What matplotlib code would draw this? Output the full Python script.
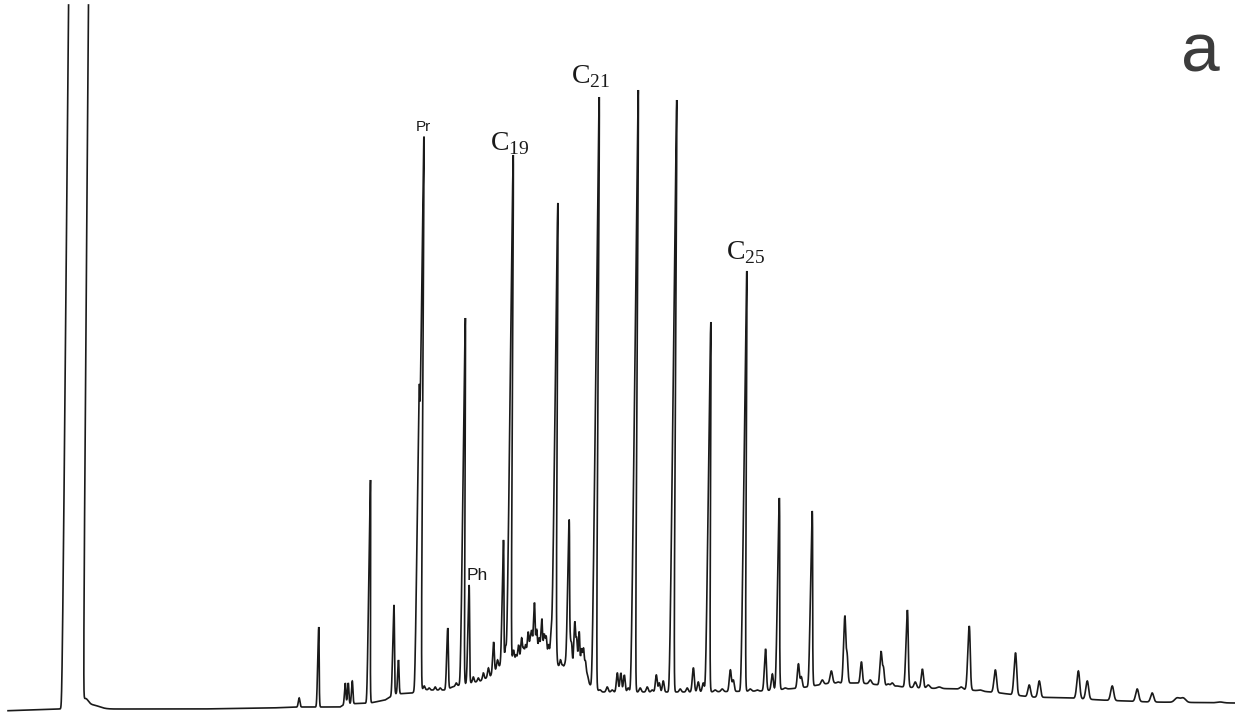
import numpy as np
import matplotlib
matplotlib.use("Agg")
import matplotlib.pyplot as plt
from matplotlib.transforms import Affine2D

# ---------------- data (retention position, detector response) ----------------
# baseline / unresolved hump
base_rt = [0, 55, 110, 200, 270, 300, 340, 345, 370, 385, 395, 412, 420, 430, 445,
           455, 470, 480, 490, 500, 510, 520, 530, 540, 550, 560, 570, 580, 590,
           600, 700, 760, 800, 830, 860, 890, 920, 960, 1000, 1030, 1070, 1100,
           1150, 1235]
base_resp = [4, 6, 6, 6, 7, 8, 8, 11, 12, 15, 21, 22, 26, 25, 25,
             29, 32, 34, 39, 50, 53, 55, 59, 58, 55, 48, 47, 40, 30,
             23, 23, 24, 27, 32, 32, 29, 27, 26, 22, 18, 17, 15,
             13, 12]

# solvent peak (off scale) and its tail
solvent_rt = 72.5
solvent_height = 3.3e9
solvent_sigma = 1.8
tail_rt = [85, 92]
tail_height = [8, 4]
tail_sigma = [3.0, 7.0]

# resolved peaks: retention position, apex response, width
peak_rt = [299, 318, 345, 348, 352, 368.5, 393, 398, 416.5, 419, 424, 429, 435, 440,
           447, 452, 456, 462, 468, 473, 478, 483, 488, 493, 497, 502, 505, 508.5,
           513, 515.5, 518, 521, 523, 525, 527.5, 529.5, 531, 533.5, 536, 538.5, 541,
           543.5, 545.5, 548, 550.5,
           553.5, 556, 558, 560, 562, 565, 567.5, 569.5, 571, 574, 576, 578.5, 581,
           583, 585, 587,
           594, 600, 607, 612, 617, 620.5, 624, 628,
           633, 640, 647, 652, 656, 659, 663,
           671.5, 680, 687, 693, 698, 703, 707.5, 715, 722, 730, 733,
           743, 750, 757, 765, 772, 777.5, 785, 790, 798, 801,
           810.5, 816, 822, 831, 838, 844, 846.5, 851, 855, 861, 866, 870,
           880.5, 883, 888, 892, 897, 906.5, 915, 922, 928, 939, 950, 961,
           968.5, 980, 995, 1015, 1029, 1039, 1078, 1087, 1112, 1137, 1152,
           1177, 1183, 1220]
peak_apex = [17, 88, 32, 32, 34, 235, 110, 55, 317, 572, 29, 27, 28, 27,
             87, 28, 32, 397, 130, 38, 37, 42, 47, 73, 55, 175, 68, 560,
             65, 60, 70, 77, 66, 70, 83, 72, 83, 112, 85, 77, 96,
             80, 78, 70, 82,
             512, 60, 48, 55, 50, 52, 195, 66, 70, 92, 75, 83, 65,
             65, 52, 40,
             618, 25, 28, 25, 42, 42, 40, 27,
             625, 27, 28, 25, 40, 32, 34,
             615, 26, 27, 47, 33, 32, 393, 25, 26, 45, 35,
             444, 26, 25, 66, 41, 217, 27, 25, 51, 38,
             204, 29, 35, 44, 33, 98, 60, 31, 30, 53, 31, 35,
             63, 47, 31, 32, 29, 105, 33, 46, 30, 28, 26, 28,
             89, 25, 45, 62, 30, 34, 44, 34, 29, 26, 22,
             17, 17, 13]
peak_sigma = [0.8, 0.7, 0.7, 0.7, 0.7, 0.8, 0.8, 0.7, 0.9, 0.9, 0.8, 0.8, 0.8, 0.8,
              0.8, 0.8, 0.8, 0.9, 0.8, 0.8, 0.8, 0.8, 0.8, 0.8, 0.8, 0.8, 0.7, 1.0,
              0.8, 0.7, 0.8, 0.8, 0.7, 0.8, 0.8, 0.7, 0.8, 0.8, 0.8, 0.8, 0.8,
              0.8, 0.8, 0.8, 0.8,
              1.0, 0.7, 0.9, 0.7, 0.9, 0.9, 0.9, 0.7, 0.8, 0.8, 0.8, 0.8, 0.8,
              0.8, 0.8, 1.0,
              1.0, 1.0, 1.0, 1.0, 0.9, 0.9, 0.9, 1.0,
              1.0, 1.0, 1.0, 1.0, 0.9, 0.9, 0.9,
              1.0, 1.0, 1.0, 1.0, 1.0, 1.0, 1.0, 1.2, 1.2, 1.0, 1.0,
              1.0, 1.2, 1.2, 1.0, 1.0, 1.0, 1.3, 1.3, 1.0, 1.0,
              1.0, 1.2, 1.2, 1.2, 1.2, 1.0, 1.0, 1.3, 1.3, 1.0, 1.3, 1.3,
              1.0, 1.0, 1.3, 1.3, 1.3, 1.1, 1.2, 1.1, 1.5, 2.0, 2.0, 1.5,
              1.2, 2.0, 1.3, 1.3, 1.3, 1.3, 1.4, 1.4, 1.5, 1.5, 1.5,
              2.5, 2.5, 3.0]

# peak labels: text, retention position, response at label baseline
label_text = ["Pr", "Ph"]
label_rt = [416, 467]
label_resp = [584, 135]
carbon_text = ["19", "21", "25"]
carbon_rt = [490, 571, 726]
carbon_resp = [565, 632, 456]
panel_label = "a"

# ---------------- build signal ----------------
x = np.arange(8.0, 1235.0, 0.05)
base = np.interp(x, base_rt, base_resp)
signal = base.copy()
signal += solvent_height * np.exp(-0.5 * ((x - solvent_rt) / solvent_sigma) ** 2)
for c, h, s in zip(tail_rt, tail_height, tail_sigma):
    signal += h * np.exp(-0.5 * ((x - c) / s) ** 2)
for c, a, s in zip(peak_rt, peak_apex, peak_sigma):
    h = max(a - np.interp(c, base_rt, base_resp), 0.0)
    signal += h * np.exp(-0.5 * ((x - c) / s) ** 2)

# the off-scale solvent peak: sides run to the top edge, no top drawn
top = 710
over = signal > top
interior = over & np.roll(over, 1) & np.roll(over, -1)
signal = np.minimum(signal, top)
signal[interior] = np.nan

# ---------------- draw ----------------
fig = plt.figure(figsize=(12.35, 7.15), dpi=100)
ax = fig.add_axes([0, 0, 1, 1])
ax.set_xlim(0, 1235)
ax.set_ylim(0, 715)
ax.axis("off")

skew = Affine2D().skew(np.arctan(0.0085), 0)
ax.plot(x, signal, color="#1a1a1a", lw=1.2, solid_joinstyle="miter",
        transform=skew + ax.transData)

plt.rcParams["mathtext.fontset"] = "custom"
plt.rcParams["mathtext.rm"] = "Liberation Serif"
for t, xr, yr in zip(label_text, label_rt, label_resp):
    ax.text(xr, yr, t, fontsize=11 if t == "Pr" else 12.5, family="Liberation Sans",
            ha="left", va="baseline", color="#1a1a1a")
for t, xr, yr in zip(carbon_text, carbon_rt, carbon_resp):
    ax.text(xr, yr, r"$\mathrm{C}_{\mathrm{%s}}$" % t, fontsize=20,
            ha="left", va="baseline", color="#1a1a1a")
ax.text(1181, 643, panel_label, fontsize=50, family="Liberation Sans",
        ha="left", va="baseline", color="#3c3c3c")

fig.savefig("out.png", dpi=100)
